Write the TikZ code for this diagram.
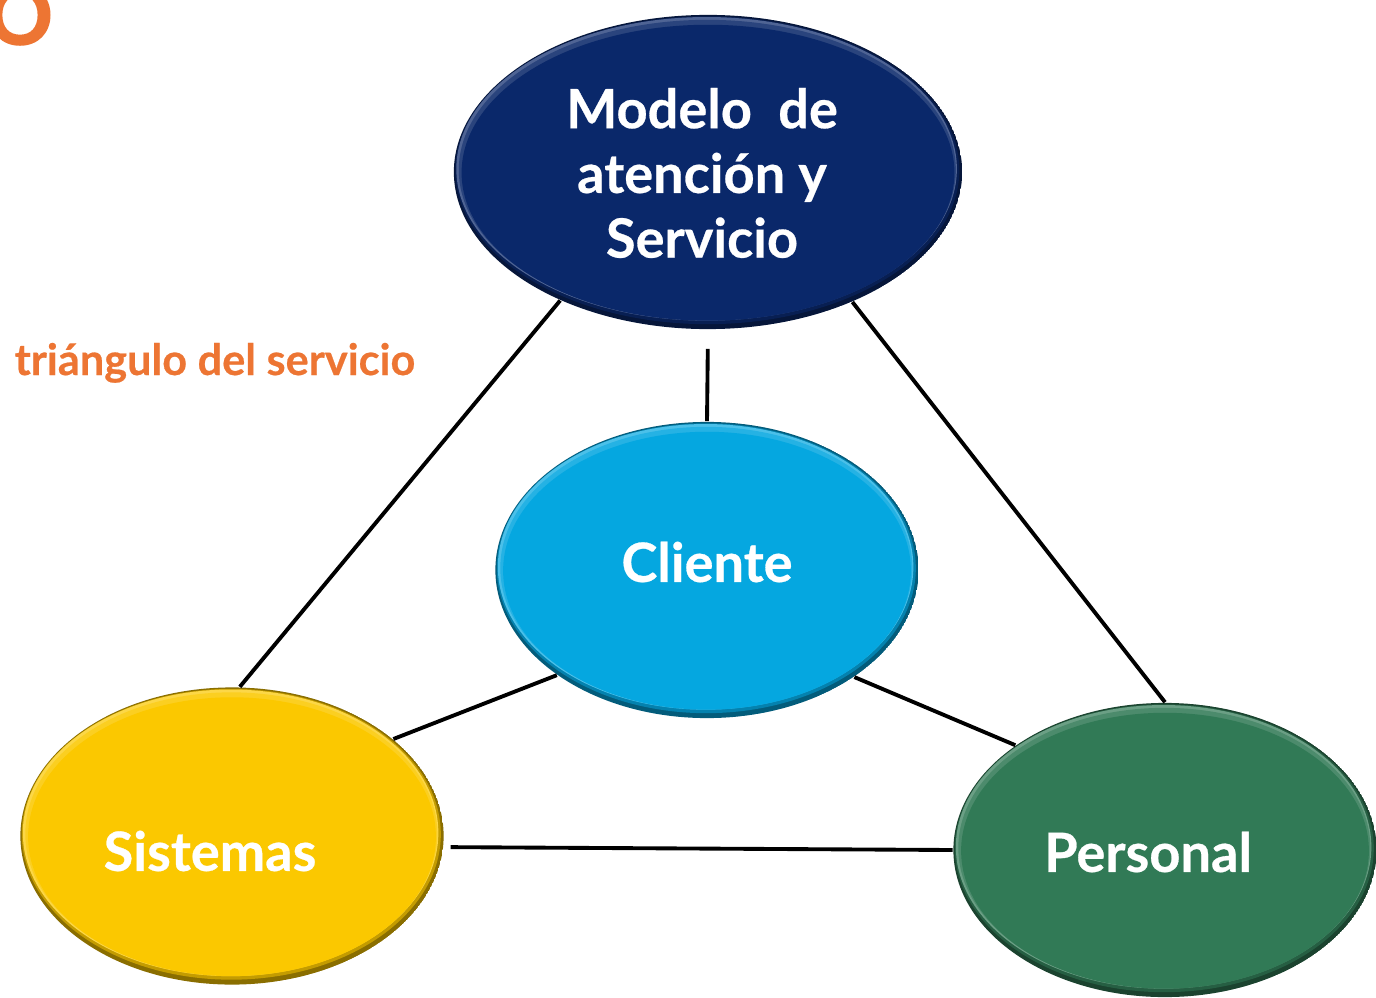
\documentclass[tikz,border=0pt]{standalone}
\usepackage{fontspec}
\setmainfont{Lato}
\newfontfamily\heavyfont{Lato}[BoldFeatures={FakeBold=2.2}]
\newfontfamily\labelfont{Lato}[BoldFeatures={FakeBold=0.5}]
\usetikzlibrary{shapes.geometric,calc}
\definecolor{navy}{HTML}{0A286A}
\definecolor{sky}{HTML}{05A7E0}
\definecolor{gold}{HTML}{FBC800}
\definecolor{forest}{HTML}{317A56}
\definecolor{orangec}{HTML}{ED7533}
\tikzset{
  bevel/.style={ellipse, inner sep=0pt, draw=none, path picture={
    \fill[#1!55!black] let \p1=($(path picture bounding box.north east)-(path picture bounding box.center)$) in
      (path picture bounding box.center) ellipse ({\x1} and {\y1});
    \fill[#1!78!black] let \p1=($(path picture bounding box.north east)-(path picture bounding box.center)$) in
      ($(path picture bounding box.center)+(-0.2pt,0.5pt)$) ellipse ({\x1-0.6pt} and {\y1-0.9pt});
    \fill[#1!72!white] let \p1=($(path picture bounding box.north east)-(path picture bounding box.center)$) in
      ($(path picture bounding box.center)+(-0.4pt,0.9pt)$) ellipse ({\x1-1.1pt} and {\y1-1.5pt});
    \fill[#1!87!white] let \p1=($(path picture bounding box.north east)-(path picture bounding box.center)$) in
      ($(path picture bounding box.center)+(-0.2pt,0.6pt)$) ellipse ({\x1-1.6pt} and {\y1-2.0pt});
    \fill[#1] let \p1=($(path picture bounding box.north east)-(path picture bounding box.center)$) in
      ($(path picture bounding box.center)+(0pt,-0.2pt)$) ellipse ({\x1-2.2pt} and {\y1-2.6pt});
  }},
  lbl/.style={text=white, font=\labelfont\bfseries\fontsize{15.4}{18.4}\selectfont, align=center, inner sep=0pt},
  link/.style={line width=1.1pt, black},
}
\begin{document}
\begin{tikzpicture}[x=0.01cm, y=-0.01cm]
\useasboundingbox (0,0) rectangle (1376,997);
\clip (0,0) rectangle (1376,997);
\fill[white] (0,0) rectangle (1376,997);
% ellipses
\node[bevel=navy, minimum width=5.08cm, minimum height=3.14cm] (M) at (708,172) {};
\node[bevel=sky, minimum width=4.23cm, minimum height=2.96cm] (C) at (707,570) {};
\node[bevel=gold, minimum width=4.23cm, minimum height=2.97cm] (S) at (232,836) {};
\node[bevel=forest, minimum width=4.23cm, minimum height=2.94cm] (P) at (1165,850) {};
% connectors
\draw[link] (M.221.8) -- (S.87.5);
\draw[link, shorten <=0.19cm] (M.south) -- (C.north);
\draw[link] (M.318.2) -- (P.north);
\draw[link] (C.215.4) -- (S.31.1);
\draw[link] (C.324.9) -- (P.145.3);
\draw[link, shorten <=0.07cm] (S.-3) -- (P.180.3);
% labels
\node[lbl] (Mt) at (702,173) {Modelo~~de\\atención y\\Servicio};
\node[lbl] (Ct) at (707,562) {Cliente};
\node[lbl] (St) at (210,851) {Sistemas};
\node[lbl] (Pt) at (1148,852) {Personal};
\node[text=orangec, font=\labelfont\bfseries\fontsize{12.3}{14}\selectfont, anchor=base west, inner sep=0pt] (T) at (14,375) {triángulo del servicio};
\node[text=orangec, font=\heavyfont\bfseries\fontsize{23}{26}\selectfont, inner sep=0pt] (O) at (20,15) {O};
\end{tikzpicture}
\end{document}
